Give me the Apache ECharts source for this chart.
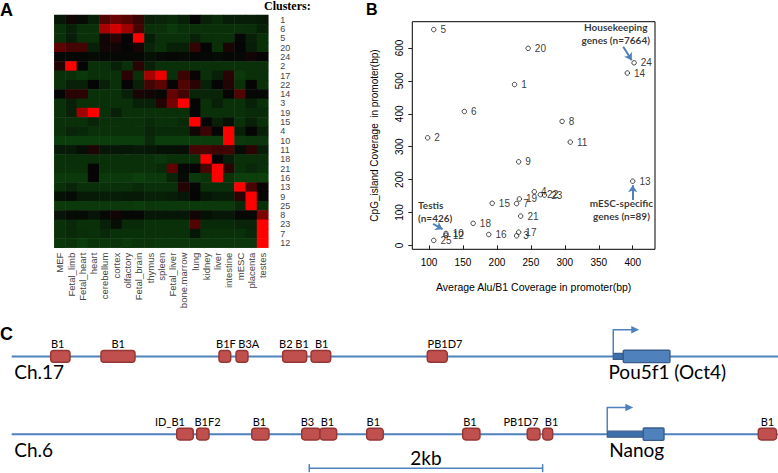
<!DOCTYPE html>
<html><head><meta charset="utf-8">
<script src="https://cdn.jsdelivr.net/npm/echarts@6/dist/echarts.min.js"></script>
<style>html,body{margin:0;padding:0;background:#fff}#c{width:778px;height:473px}</style>
</head><body><div id="c"></div>
<script>
// ---------- Panel A: heatmap ----------
const tissues = ['MEF','Fetal_limb','Fetal_heart','heart','cerebellum','cortex','olfactory','Fetal_brain','thymus','spleen','Fetal_liver','bone.marrow','lung','kidney','liver','intestine','mESC','placenta','testes'];
const clusters = ['1','6','5','20','24','2','17','22','14','3','19','15','4','10','11','18','21','16','13','9','25','8','23','7','12'];
const heatRows = [
 [-0.3,0.05,-0.1,-0.45,0.3,0.4,0.33,0.2,-0.45,-0.5,-0.6,-0.45,0,-0.45,-0.6,-0.4,-0.4,-0.4,-0.35],
 [-0.7,-0.45,-0.7,-0.7,0.65,0.82,0.62,0.25,-0.7,-0.7,-0.85,-0.7,-0.7,-0.7,-0.7,-0.7,-0.7,-0.65,-0.45],
 [-0.7,-0.4,-0.7,-0.7,0.05,0.15,0,1,-0.4,-0.7,-0.7,-0.7,-0.45,-0.7,-0.7,-0.7,-0.05,-0.45,-0.7],
 [0.35,0.25,0.25,-0.45,0.05,0.05,0,0.08,-0.5,-0.7,-0.45,-0.45,0.18,0,-0.7,0.08,0,-0.4,-0.7],
 [-0.05,-0.05,-0.05,-0.1,-0.05,-0.05,-0.05,-0.05,-0.2,-0.1,-0.05,-0.1,0,-0.05,-0.1,-0.05,-0.05,0.05,0],
 [0.12,1,0,-0.7,-0.7,-0.45,-0.7,0.15,-0.45,-0.7,-0.7,-0.7,-0.7,-0.7,-0.7,-0.7,-0.7,-0.7,-0.7],
 [-0.7,-0.7,-0.85,-0.7,-0.7,-0.7,0.15,-0.7,0.65,0.92,-0.7,0.22,0.02,-0.7,-0.45,0.15,-0.85,-0.7,-0.7],
 [-0.7,-0.45,-0.45,0,-0.45,-0.7,0,-0.45,0.25,0.35,0,0.3,0.15,-0.45,0,0.12,-0.7,0,-0.7],
 [0,0.15,0.15,-0.7,-0.7,-0.7,-0.45,0.08,0.05,-0.05,0.38,0.25,-0.5,-0.5,-0.5,0,0.3,-0.05,-0.05],
 [-0.7,-0.45,-0.7,-0.7,-0.7,-0.7,-0.7,-0.45,-0.45,0.12,0.45,1,0,-0.7,-0.45,-0.7,-0.7,-0.45,-0.7],
 [-0.7,-0.45,0.62,1,-0.7,-0.45,-0.7,-0.7,-0.7,-0.7,-0.7,-0.7,0,-0.7,-0.7,-0.7,-0.7,-0.6,-0.6],
 [-0.7,-0.7,-0.7,-0.5,-0.7,-0.7,-0.7,-0.7,-0.6,-0.7,-0.7,-0.6,1,0,-0.45,-0.2,-0.7,-0.45,-0.7],
 [-0.7,-0.5,-0.55,-0.7,-0.7,-0.7,-0.7,-0.7,-0.5,-0.6,-0.6,-0.6,0.05,0.22,0,1,-0.45,0,-0.45],
 [-0.9,-0.9,-0.9,-0.9,-0.9,-0.9,-0.9,-0.9,-0.6,-0.9,-0.9,-0.9,-0.9,-0.9,-0.9,1,-0.85,-0.8,-0.8],
 [-0.35,-0.35,-0.15,0.1,-0.3,-0.3,-0.3,-0.35,-0.3,-0.2,-0.2,-0.15,0.25,0.28,0.22,0.25,-0.1,0.15,-0.4],
 [-0.7,-0.65,-0.7,-0.65,-0.7,-0.7,-0.7,-0.7,-0.7,-0.8,-0.7,-0.7,-0.7,1,0,-0.4,-0.7,-0.7,-0.65],
 [-0.7,-0.7,-0.7,0,-0.7,-0.7,-0.7,-0.7,-0.7,-0.6,0.35,-0.05,0,0.28,1,0.15,-0.7,-0.55,-0.7],
 [-0.85,-0.85,-0.85,0,-0.85,-0.85,-0.85,-0.95,-0.85,-0.85,-0.5,-0.1,-0.85,-0.75,1,-0.75,-0.95,-0.95,-0.95],
 [-0.7,-0.5,-0.7,-0.7,-0.7,-0.7,-0.7,-0.6,-0.7,-0.7,-0.7,0.12,-0.05,-0.7,-0.7,-0.7,1,0.28,0.02],
 [-0.2,-0.1,-0.35,-0.35,-0.4,-0.4,-0.35,-0.35,-0.45,-0.45,-0.4,-0.3,0,-0.3,-0.4,-0.4,0.15,1,0.02],
 [-0.85,-0.85,-0.85,-0.85,-0.85,-0.85,-0.85,-0.9,-0.8,-0.85,-0.85,-0.85,-0.85,-0.85,-0.85,-0.85,-0.6,1,-0.7],
 [-0.25,-0.1,-0.1,-0.25,-0.05,0.05,-0.05,-0.05,-0.3,-0.3,-0.3,-0.3,0.05,-0.2,-0.3,-0.3,-0.05,-0.05,0.48],
 [-0.7,-0.55,-0.7,-0.7,-0.45,-0.15,-0.6,-0.6,-0.7,-0.7,-0.7,-0.7,0.3,-0.6,-0.6,-0.6,-0.5,-0.5,1],
 [-0.7,-0.6,-0.65,-0.7,-0.55,-0.7,-0.7,-0.7,-0.7,-0.7,-0.7,-0.7,-0.3,-0.7,-0.7,-0.7,-0.7,-0.55,1],
 [-0.8,-0.75,-0.9,-0.75,-0.8,-0.75,-0.85,-0.75,-0.75,-0.8,-0.8,-0.8,-0.8,-0.8,-0.8,-0.8,-0.8,-0.8,1]
];

// ---------- Panel B: scatter ----------
const clusterIds  = ['1','2','3','4','5','6','7','8','9','10','11','12','13','14','15','16','17','18','19','20','21','22','23','24','25'];
const aluCoverage = [226,98,229,255,107,152,229,296,232,125,308,125,400,392,193,188,232,165,233,246,235,264,270,402,107];
const cpgCoverage = [489,327,29,163,656,407,127,377,254,36,314,31,195,524,128,33,40,67,141,599,89,154,153,555,15];
const xTicks = [100,150,200,250,300,350,400];
const yTicks = [0,100,200,300,400,500,600];
const calloutTexts   = ['Housekeeping\ngenes (n=7664)','mESC-specific\ngenes (n=89)','Testis\n(n=426)'];
const calloutAnchors = [[375,644],[383.4,109],[83.8,104]];
const calloutArrows  = [[386,604,398.5,563],[400,138,400,183],[106,65,120,49]];

// ---------- Panel C: loci (positions in kb) ----------
const trackNames = ['Ch.17','Ch.6'];
const locusSpan = [0, 6.567];
const repeatElements = [
 [0,0.334,0.500,0.394],[0,0.765,1.057,0.913],[0,1.776,1.877,1.836],[0,1.922,2.025,2.032],
 [0,2.322,2.528,2.419],[0,2.565,2.734,2.656],[0,3.561,3.733,3.713],
 [1,1.414,1.556,1.356],[1,1.585,1.691,1.678],[1,2.057,2.205,2.123],[1,2.485,2.642,2.535],
 [1,2.642,2.785,2.706],[1,3.042,3.184,3.099],[1,3.865,4.013,3.927],[1,4.418,4.527,4.364],
 [1,4.552,4.636,4.627],[1,6.398,6.555,6.476]
];
const repeatNames = ['B1','B1','B1F','B3A','B2 B1','B1','PB1D7','ID_B1','B1F2','B1','B3','B1','B1','B1','PB1D7','B1','B1'];
const genes = [[0,5.155,5.241,5.641,5.618],[1,5.104,5.412,5.590,5.356]];
const geneNames = ['Pou5f1 (Oct4)','Nanog'];
const scaleBar = [2.550, 4.550, 1];
const scaleLabel = '2kb';

const heatData = [];
heatRows.forEach((row, r) => row.forEach((v, c) => heatData.push([c, r, v])));
const scatterData = aluCoverage.map((x, i) => [x, cpgCoverage[i]]);

const SANS = 'Liberation Sans, Arial, sans-serif';
const NARROW = 'Liberation Sans Narrow, Liberation Sans, Arial, sans-serif';
const CAL = 'Lato, Noto Sans, sans-serif';
const BLUE = '#4f81bd';

const chart = echarts.init(document.getElementById('c'), null, {renderer: 'svg'});
chart.setOption({
  animation: false,
  backgroundColor: '#fff',
  graphic: [
    {type:'text', left:0, top:1, style:{text:'A', font:'bold 18px '+SANS, fill:'#000'}},
    {type:'text', left:366, top:1, style:{text:'B', font:'bold 16px '+SANS, fill:'#000'}},
    {type:'text', left:0, top:325, style:{text:'C', font:'bold 18px '+SANS, fill:'#000'}},
    {type:'text', left:264, top:0, style:{text:'Clusters:', font:'bold 12px Liberation Serif, serif', fill:'#000'}}
  ],
  visualMap: {type:'continuous', seriesIndex:0, min:-1, max:1, show:false,
              inRange:{color:['#0c420c','#050505','#ff0000']}},
  grid: [
    {left:54.3, top:15, width:214, height:232.7},
    {left:412.3, top:21.7, width:242.7, height:227.6, show:true, borderColor:'#000', borderWidth:1},
    {left:11.7, top:317.55, width:766.3, height:156.6}
  ],
  xAxis: [
    {gridIndex:0, type:'category', data:tissues, axisLine:{show:false}, axisTick:{show:false},
     axisLabel:{rotate:90, interval:0, margin:5, fontSize:9.5, fontFamily:SANS, color:'#444'}},
    {gridIndex:1, type:'value', min:75.4, max:432.8, splitLine:{show:false}, axisLine:{show:false},
     axisTick:{show:true, customValues:xTicks, length:4, lineStyle:{color:'#222'}},
     axisLabel:{customValues:xTicks, margin:8, fontSize:10, fontFamily:NARROW, color:'#000'},
     name:'Average Alu/B1 Coverage in promoter(bp)', nameLocation:'middle', nameGap:32,
     nameTextStyle:{fontSize:10.5, fontFamily:NARROW, color:'#000'}},
    {gridIndex:2, type:'value', min:locusSpan[0], max:locusSpan[1], show:false}
  ],
  yAxis: [
    {gridIndex:0, type:'category', data:clusters, inverse:true, position:'right',
     axisLine:{show:false}, axisTick:{show:false},
     axisLabel:{interval:0, margin:12, fontSize:9, lineHeight:9, fontFamily:SANS, color:'#444'}},
    {gridIndex:1, type:'value', min:-12, max:680, splitLine:{show:false}, axisLine:{show:false},
     axisTick:{show:true, customValues:yTicks, length:4, lineStyle:{color:'#222'}},
     axisLabel:{customValues:yTicks, rotate:90, margin:8, fontSize:10, fontFamily:NARROW, color:'#000'},
     name:'CpG_island Coverage  in promoter(bp)', nameLocation:'middle', nameGap:33,
     nameTextStyle:{fontSize:10, fontFamily:NARROW, color:'#000'}},
    {gridIndex:2, type:'value', min:-0.5, max:1.5, inverse:true, show:false}
  ],
  series: [
    {type:'heatmap', xAxisIndex:0, yAxisIndex:0, data:heatData, emphasis:{disabled:true}},
    {type:'scatter', xAxisIndex:1, yAxisIndex:1, data:scatterData, symbol:'circle', symbolSize:4.5,
     itemStyle:{color:'transparent', borderColor:'#000', borderWidth:0.9},
     label:{show:true, position:'right', distance:4, fontSize:10, fontFamily:SANS, color:'#000',
            formatter:p => clusterIds[p.dataIndex]},
     markLine:{silent:true, symbol:['none','arrow'], symbolSize:7, label:{show:false},
       lineStyle:{color:BLUE, width:2, type:'solid'},
       data: calloutArrows.map(a => [{coord:[a[0],a[1]]},{coord:[a[2],a[3]]}])}},
    {type:'scatter', xAxisIndex:1, yAxisIndex:1, symbolSize:1, itemStyle:{color:'transparent'},
     data: calloutAnchors.map((a,i) => ({value:a, label:{align: i===2 ? 'left' : 'center'}})),
     label:{show:true, position:'inside', fontSize:10, fontWeight:'bold', fontFamily:CAL, color:'#000',
            lineHeight:13, formatter:p => calloutTexts[p.dataIndex]}},
    {type:'custom', xAxisIndex:2, yAxisIndex:2, data: trackNames.map((n,i)=>[locusSpan[0], i]),
     encode:{x:0, y:1}, z:1,
     renderItem:(params, api) => {
       const t = api.value(1);
       const a = api.coord([locusSpan[0], t]), b = api.coord([locusSpan[1], t]);
       return {type:'group', children:[
         {type:'line', shape:{x1:a[0], y1:a[1], x2:b[0], y2:b[1]}, style:{stroke:BLUE, lineWidth:2}},
         {type:'text', style:{text:trackNames[params.dataIndex], x:a[0]+2.5, y:a[1]+15, align:'left',
           verticalAlign:'middle', font:'19px '+CAL, fill:'#000'}}
       ]};
     }},
    {type:'custom', xAxisIndex:2, yAxisIndex:2, data: repeatElements, encode:{x:[1,2,3], y:0}, z:3,
     renderItem:(params, api) => {
       const t = api.value(0);
       const p0 = api.coord([api.value(1), t]), p1 = api.coord([api.value(2), t]), pl = api.coord([api.value(3), t]);
       const h = 11.7;
       return {type:'group', children:[
         {type:'rect', shape:{x:p0[0], y:p0[1]-h/2, width:p1[0]-p0[0], height:h, r:3},
          style:{fill:'#c0504d', stroke:'#943634', lineWidth:1.4}},
         {type:'text', style:{text:repeatNames[params.dataIndex], x:pl[0], y:p0[1]-12.5, align:'center',
          verticalAlign:'middle', font:'11px '+CAL, fill:'#000'}}
       ]};
     }},
    {type:'custom', xAxisIndex:2, yAxisIndex:2, data: genes, encode:{x:[1,2,3,4], y:0}, z:3,
     renderItem:(params, api) => {
       const t = api.value(0);
       const s = api.coord([api.value(1), t]), k = api.coord([api.value(2), t]),
             e = api.coord([api.value(3), t]), l = api.coord([api.value(4), t]);
       const y = s[1], top = y - 26.7, x = s[0];
       return {type:'group', children:[
         {type:'rect', shape:{x:x, y:y-3, width:k[0]-x, height:6}, style:{fill:'#3d6fab', stroke:'#385d8a', lineWidth:1.2}},
         {type:'rect', shape:{x:k[0], y:y-6.2, width:e[0]-k[0], height:12.4, r:1}, style:{fill:BLUE, stroke:'#385d8a', lineWidth:1.4}},
         {type:'polyline', shape:{points:[[x, y-3],[x, top],[x+19, top]]}, style:{stroke:BLUE, lineWidth:1.5, fill:null}},
         {type:'polygon', shape:{points:[[x+26, top],[x+18, top-3.8],[x+18, top+3.8]]}, style:{fill:BLUE}},
         {type:'text', style:{text:geneNames[params.dataIndex], x:l[0], y:y+15, align:'center',
          verticalAlign:'middle', font:'19px '+CAL, fill:'#000'}}
       ]};
     }},
    {type:'custom', xAxisIndex:2, yAxisIndex:2, data:[scaleBar], encode:{x:[0,1], y:2}, z:3,
     renderItem:(params, api) => {
       const a = api.coord([api.value(0), api.value(2)]), b = api.coord([api.value(1), api.value(2)]);
       const y = a[1] + 34;
       return {type:'group', children:[
         {type:'line', shape:{x1:a[0], y1:y, x2:b[0], y2:y}, style:{stroke:BLUE, lineWidth:1.5}},
         {type:'line', shape:{x1:a[0], y1:y-4, x2:a[0], y2:y+4}, style:{stroke:BLUE, lineWidth:1.5}},
         {type:'line', shape:{x1:b[0], y1:y-4, x2:b[0], y2:y+4}, style:{stroke:BLUE, lineWidth:1.5}},
         {type:'text', style:{text:scaleLabel, x:(a[0]+b[0])/2, y:y-11, align:'center', verticalAlign:'middle',
          font:'19px '+CAL, fill:'#000'}}
       ]};
     }}
  ]
});
</script></body></html>
